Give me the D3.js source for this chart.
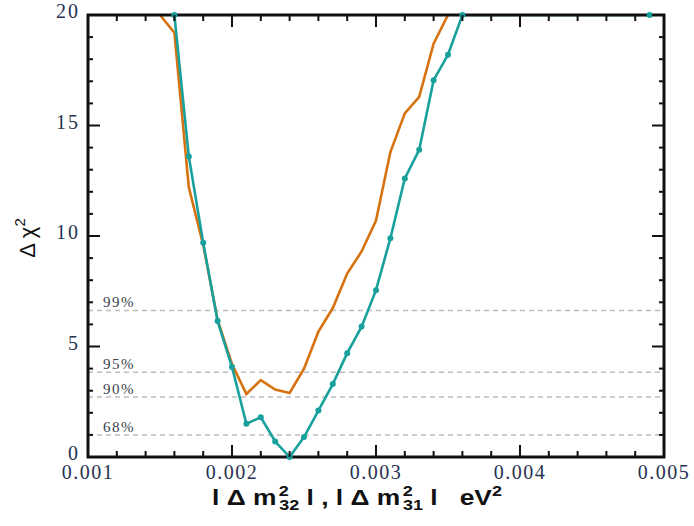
<!DOCTYPE html>
<html>
<head>
<meta charset="utf-8">
<script src="https://cdn.jsdelivr.net/npm/d3@7"></script>
<style>
  body { margin: 0; background: #fff; }
  svg { display: block; }
  text { white-space: pre; }
</style>
</head>
<body>
<div id="chart-area"></div>
<script>
// data
let tealX = [0.0016, 0.0017, 0.0018, 0.0019, 0.0020, 0.0021, 0.0022, 0.0023, 0.0024, 0.0025,
	0.0026, 0.0027, 0.0028, 0.0029, 0.0030, 0.0031, 0.0032, 0.0033, 0.0034, 0.0035, 0.0036, 0.0049];
let tealY = [20, 13.6, 9.7, 6.15, 4.07, 1.5, 1.8, 0.7, 0.0, 0.9,
	2.1, 3.3, 4.7, 5.9, 7.55, 9.9, 12.6, 13.9, 17.05, 18.2, 20, 20];

let orangeX = [0.0015, 0.0016, 0.0017, 0.0018, 0.0019, 0.0020, 0.0021, 0.0022, 0.0023, 0.0024,
	0.0025, 0.0026, 0.0027, 0.0028, 0.0029, 0.0030, 0.0031, 0.0032, 0.0033, 0.0034, 0.0035];
let orangeY = [20, 19.2, 12.2, 9.6, 6.2, 4.2, 2.85, 3.48, 3.05, 2.9,
	4.0, 5.67, 6.74, 8.3, 9.3, 10.7, 13.8, 15.55, 16.3, 18.7, 20];

let clLabels = ["99%", "95%", "90%", "68%"];
let clValues = [6.63, 3.84, 2.71, 1.0];

let xTicks = [0.001, 0.002, 0.003, 0.004, 0.005];
let yTicks = [0, 5, 10, 15, 20];

let margin = { left: 88, right: 30, top: 15, bottom: 69 };
let width = 694 - margin.left - margin.right,
	height = 526 - margin.top - margin.bottom;

let svg = d3.select("#chart-area")
	.append("svg")
	.attr("width", 694)
	.attr("height", 526);

svg.append("defs").append("clipPath")
	.attr("id", "plot-clip")
	.append("rect")
	.attr("width", width)
	.attr("height", height);

let g = svg.append("g")
	.attr("transform", "translate(" + margin.left + "," + margin.top + ")");

let x = d3.scaleLinear().domain([0.001, 0.005]).range([0, width]);
let y = d3.scaleLinear().domain([0, 20]).range([height, 0]);

let tickColor = "#26324f";
let serif = "'Liberation Serif', 'DejaVu Serif', serif";
let sans = "'Liberation Sans', Arial, sans-serif";

// confidence level lines
clValues.forEach((v, i) => {
	g.append("line")
		.attr("x1", 0).attr("x2", width)
		.attr("y1", y(v)).attr("y2", y(v))
		.attr("stroke", "#bdbdbd")
		.attr("stroke-width", 1.5)
		.attr("stroke-dasharray", "5,4");
	g.append("text")
		.attr("x", 15)
		.attr("y", y(v) - 3)
		.attr("font-family", serif)
		.attr("font-size", "15px")
		.attr("letter-spacing", "1.5px")
		.attr("fill", "#3a3f50")
		.text(clLabels[i]);
});

// curves
let line = d3.line().x(d => x(d[0])).y(d => y(d[1]));
let orange = orangeX.map((v, i) => [v, orangeY[i]]);
let teal = tealX.map((v, i) => [v, tealY[i]]);

let curves = g.append("g").attr("clip-path", "url(#plot-clip)");

curves.append("path")
	.datum(orange)
	.attr("fill", "none")
	.attr("stroke", "#d6720f")
	.attr("stroke-width", 2.6)
	.attr("d", line);

curves.append("path")
	.datum(teal)
	.attr("fill", "none")
	.attr("stroke", "#17a09c")
	.attr("stroke-width", 2.6)
	.attr("d", line);

// frame on top of the curves
g.append("rect")
	.attr("width", width)
	.attr("height", height)
	.attr("fill", "none")
	.attr("stroke", "#111")
	.attr("stroke-width", 3);

// markers
g.selectAll("circle.teal")
	.data(teal)
	.enter().append("circle")
	.attr("class", "teal")
	.attr("cx", d => x(d[0]))
	.attr("cy", d => y(d[1]))
	.attr("r", 3)
	.attr("fill", "#17a09c");

// ticks, pointing inwards on all four sides
let xMinor = d3.range(0, 21).map(i => 0.001 + i * 0.0002);
let yMinor = d3.range(0, 21);

xMinor.forEach((v, i) => {
	let len = (i % 5 === 0) ? 12 : 6;
	g.append("line").attr("x1", x(v)).attr("x2", x(v))
		.attr("y1", height).attr("y2", height - len)
		.attr("stroke", "#111").attr("stroke-width", 2);
	g.append("line").attr("x1", x(v)).attr("x2", x(v))
		.attr("y1", 0).attr("y2", len)
		.attr("stroke", "#111").attr("stroke-width", 2);
});

yMinor.forEach((v, i) => {
	let len = (i % 5 === 0) ? 12 : 5;
	g.append("line").attr("x1", 0).attr("x2", len)
		.attr("y1", y(v)).attr("y2", y(v))
		.attr("stroke", "#111").attr("stroke-width", 2);
	g.append("line").attr("x1", width).attr("x2", width - len)
		.attr("y1", y(v)).attr("y2", y(v))
		.attr("stroke", "#111").attr("stroke-width", 2);
});

// tick labels
g.selectAll("text.xt")
	.data(xTicks)
	.enter().append("text")
	.attr("class", "xt")
	.attr("x", d => x(d))
	.attr("y", height + 22)
	.attr("text-anchor", "middle")
	.attr("font-family", serif)
	.attr("font-size", "20px")
	.attr("letter-spacing", "1.5px")
	.attr("fill", tickColor)
	.text(d => d3.format(".3f")(d));

g.selectAll("text.yt")
	.data(yTicks)
	.enter().append("text")
	.attr("class", "yt")
	.attr("x", -8)
	.attr("y", d => y(d) + 3)
	.attr("text-anchor", "end")
	.attr("font-family", serif)
	.attr("font-size", "20px")
	.attr("letter-spacing", "2px")
	.attr("fill", tickColor)
	.text(d => d);

// axis labels (stretched a little, as in the original)
let xLabel = svg.append("text")
	.attr("transform", "translate(212,505) scale(1.2,1)")
	.attr("font-family", sans)
	.attr("font-weight", "bold")
	.attr("font-size", "22px")
	.attr("fill", "#111");

let addStack = (t, sup, sub) => {
	t.append("tspan").attr("font-size", "15px").attr("dx", 2).attr("dy", -9).text(sup);
	t.append("tspan").attr("font-size", "15px").attr("dx", -8).attr("dy", 14).text(sub);
};

xLabel.append("tspan").text("l \u0394 m");
addStack(xLabel, "2", "32");
xLabel.append("tspan").attr("dy", -5).text(" l , l \u0394 m");
addStack(xLabel, "2", "31");
xLabel.append("tspan").attr("dy", -5).text(" l   eV");
xLabel.append("tspan").attr("font-size", "15px").attr("dy", -9).text("2");

let yLabel = svg.append("text")
	.attr("transform", "translate(35,238) rotate(-90)")
	.attr("text-anchor", "middle")
	.attr("font-family", sans)
	.attr("font-size", "22px")
	.attr("fill", "#111");
yLabel.append("tspan").text("\u0394 \u03c7");
yLabel.append("tspan").attr("font-size", "15px").attr("dy", -10).text("2");
</script>
</body>
</html>
